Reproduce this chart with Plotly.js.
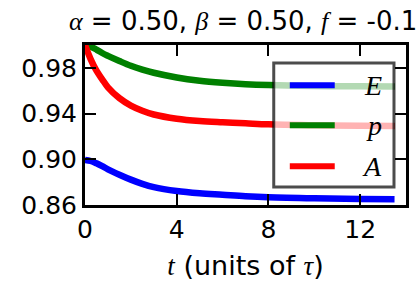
<!DOCTYPE html>
<html>
<head>
<meta charset="utf-8">
<script src="https://cdn.plot.ly/plotly-3.0.1.min.js"></script>
<style>html,body{margin:0;padding:0;background:#fff;}#chart{width:417px;height:294px;}</style>
</head>
<body>
<div id="chart"></div>
<script>
// time in units of tau
const t = [0, 0.25, 0.5, 0.75, 1.0, 1.5, 2.0, 2.5, 3.0, 4.0, 5.0, 6.0, 7.0, 8.0, 10.0, 12.0, 13.5];
const E = [0.8995, 0.8985, 0.8965, 0.8940, 0.8912, 0.8865, 0.8822, 0.8785, 0.8756, 0.8722, 0.8702, 0.8689, 0.8676, 0.8667, 0.8658, 0.8653, 0.8651];
const p = [1.000, 0.9985, 0.9960, 0.9930, 0.9905, 0.9860, 0.9818, 0.9785, 0.9757, 0.9716, 0.9688, 0.9670, 0.9657, 0.9649, 0.9641, 0.9638, 0.9637];
const A = [1.000, 0.9875, 0.9775, 0.9700, 0.9630, 0.9535, 0.9470, 0.9425, 0.9392, 0.9355, 0.9335, 0.9324, 0.9315, 0.9306, 0.9298, 0.9293, 0.9291];
const seriesNames = ['E', 'p', 'A'];
const seriesColors = ['#0000ff', '#008000', '#ff0000'];
const xTicks = [0, 4, 8, 12];
const yTicks = [0.86, 0.90, 0.94, 0.98];

const series = [E, p, A];
const traces = series.map((y, i) => ({
  x: t, y: y, type: 'scatter', mode: 'lines', name: seriesNames[i],
  line: {color: seriesColors[i], width: 6.5, shape: 'spline'},
  showlegend: false, hoverinfo: 'skip'
}));

// hand-drawn legend (matplotlib-style)
const legX0 = 0.588, legX1 = 0.9626, legY0 = 0.1125, legY1 = 0.8875;
const rowY = [0.748, 0.498, 0.242];
const shapes = [{
  type: 'rect', xref: 'paper', yref: 'paper', x0: legX0, x1: legX1, y0: legY0, y1: legY1,
  fillcolor: 'rgba(255,255,255,0.7)', line: {color: 'rgba(0,0,0,0.7)', width: 3}, layer: 'above'
}];
const annotations = [];
seriesNames.forEach((n, i) => {
  shapes.push({type: 'line', xref: 'paper', yref: 'paper', x0: 0.638, x1: 0.778, y0: rowY[i], y1: rowY[i],
    line: {color: seriesColors[i], width: 6}, layer: 'above'});
  annotations.push({xref: 'paper', yref: 'paper', x: 0.93, y: rowY[i], xanchor: 'right', yanchor: 'middle',
    text: '<i>' + n + '</i>', showarrow: false,
    font: {family: 'Liberation Serif, DejaVu Serif, serif', size: 28, color: '#000'}});
});

const serif = (s) => '<span style="font-family:\'Liberation Serif\',serif"><i>' + s + '</i></span>';

const layout = {
  width: 417, height: 294,
  margin: {l: 85, r: 11, t: 45, b: 89},
  paper_bgcolor: '#fff', plot_bgcolor: '#fff',
  font: {family: 'DejaVu Sans, sans-serif', color: '#000'},
  title: {
    text: serif('α') + ' = 0.50, ' + serif('β') + ' = 0.50, ' + serif('f') + ' = -0.1',
    font: {size: 26, family: 'DejaVu Sans, sans-serif', color: '#000'},
    x: 0.583, xref: 'container', xanchor: 'center', y: 0.93, yref: 'container', yanchor: 'middle'
  },
  xaxis: {
    range: [0, 14], tickvals: xTicks, ticktext: xTicks.map(String),
    ticks: 'inside', ticklen: 11, tickwidth: 2, tickcolor: '#000',
    showline: true, linewidth: 3, linecolor: '#000', mirror: 'ticks',
    showgrid: false, zeroline: false, tickfont: {size: 25},
    title: {text: serif('t') + ' (units of ' + serif('τ') + ')', font: {size: 27}, standoff: 14}
  },
  yaxis: {
    range: [0.86, 1.0], tickvals: yTicks, ticktext: yTicks.map(v => v.toFixed(2)),
    ticks: 'inside', ticklen: 11, tickwidth: 2, tickcolor: '#000',
    showline: true, linewidth: 3, linecolor: '#000', mirror: 'ticks',
    showgrid: false, zeroline: false, tickfont: {size: 25}
  },
  shapes: shapes,
  annotations: annotations
};

Plotly.newPlot('chart', traces, layout, {staticPlot: true, displayModeBar: false});
</script>
</body>
</html>
